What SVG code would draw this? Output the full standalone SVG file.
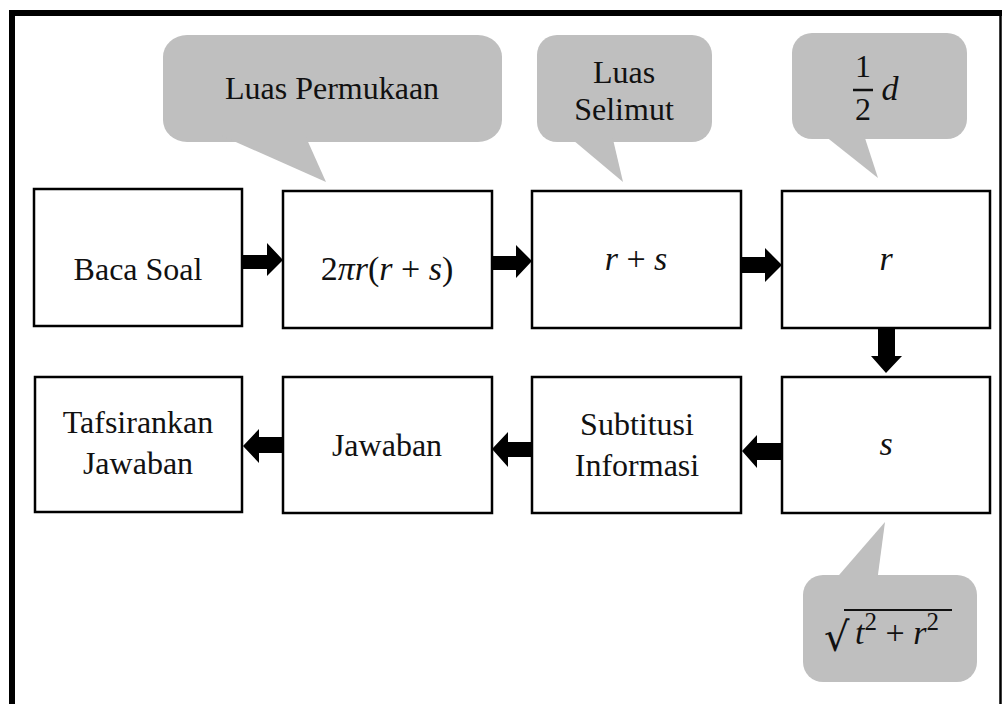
<svg xmlns="http://www.w3.org/2000/svg" width="1006" height="704" viewBox="0 0 1006 704">
<style>
.box{fill:#fff;stroke:#000;stroke-width:2.5}
.call{fill:#bfbfbf;stroke:none}
.t{font-family:"Liberation Serif","Times New Roman",serif;font-size:32px;fill:#111;text-anchor:middle}
.m{font-family:"Liberation Serif","Times New Roman",serif;font-style:italic;font-size:34px;fill:#111;text-anchor:middle}
.u{font-style:normal}
.sup{font-style:normal;font-size:25px}
.arr{fill:#000}
</style>
<rect width="1006" height="704" fill="#fff"/>
<g id="frame" stroke="#000" fill="none">
<line x1="12" y1="10" x2="12" y2="704" stroke-width="6"/>
<line x1="9" y1="13" x2="1002" y2="13" stroke-width="6"/>
<line x1="1000.5" y1="13" x2="1000.5" y2="704" stroke-width="2.5"/>
</g>
<g id="callout-luas-permukaan">
<rect class="call" x="163" y="35" width="339" height="107" rx="24" ry="22"/>
<polygon class="call" points="220,135 305,135 326,182"/>
<text class="t" x="332" y="99">Luas Permukaan</text>
</g>
<g id="callout-luas-selimut">
<rect class="call" x="537" y="35" width="175" height="107" rx="20" ry="20"/>
<polygon class="call" points="567,135 612,135 623,182"/>
<text class="t" x="624" y="83">Luas</text>
<text class="t" x="624" y="120">Selimut</text>
</g>
<g id="callout-half-d">
<rect class="call" x="792" y="33" width="175" height="106" rx="20" ry="20"/>
<polygon class="call" points="820,132 863,132 878,178"/>
<text class="t" x="863" y="77" style="font-size:32px">1</text>
<line x1="853" y1="90" x2="873" y2="90" stroke="#111" stroke-width="2.5"/>
<text class="t" x="863" y="120" style="font-size:32px">2</text>
<text class="m" x="890" y="100">d</text>
</g>
<g id="callout-sqrt">
<rect class="call" x="803" y="575" width="174" height="107" rx="20" ry="20"/>
<polygon class="call" points="833,582 877,582 885,522"/>
<text x="824" y="651" style="font-family:'DejaVu Sans',sans-serif;font-size:40px;fill:#111">√</text>
<line x1="844" y1="610" x2="952" y2="610" stroke="#111" stroke-width="2"/>
<text class="m" x="855" y="644" style="text-anchor:start;font-size:34px">t<tspan class="sup" dy="-14">2</tspan><tspan dy="14"> </tspan><tspan class="u">+</tspan> r<tspan class="sup" dy="-14">2</tspan></text>
</g>
<g id="node-baca-soal">
<rect class="box" x="34" y="189" width="208" height="137"/>
<text class="t" x="138" y="280">Baca Soal</text>
</g>
<g id="node-2pir">
<rect class="box" x="283" y="191" width="209" height="137"/>
<text class="m" x="387" y="280"><tspan class="u">2</tspan>πr<tspan class="u">(</tspan>r <tspan class="u">+</tspan> s<tspan class="u">)</tspan></text>
</g>
<g id="node-r-plus-s">
<rect class="box" x="532" y="191" width="209" height="137"/>
<text class="m" x="636" y="270">r <tspan class="u">+</tspan> s</text>
</g>
<g id="node-r">
<rect class="box" x="782" y="191" width="208" height="137"/>
<text class="m" x="886" y="270">r</text>
</g>
<g id="node-s">
<rect class="box" x="782" y="377" width="208" height="136"/>
<text class="m" x="886" y="455">s</text>
</g>
<g id="node-subtitusi">
<rect class="box" x="532" y="377" width="209" height="136"/>
<text class="t" x="637" y="435">Subtitusi</text>
<text class="t" x="637" y="476">Informasi</text>
</g>
<g id="node-jawaban">
<rect class="box" x="283" y="377" width="209" height="136"/>
<text class="t" x="387" y="456">Jawaban</text>
</g>
<g id="node-tafsirankan">
<rect class="box" x="35" y="377" width="207" height="135"/>
<text class="t" x="138" y="433">Tafsirankan</text>
<text class="t" x="138" y="474">Jawaban</text>
</g>
<g id="connectors" class="arr">
<polygon points="242,255 267,255 267,243 283,260 267,276 267,269 242,269"/>
<polygon points="492,256 516,256 516,245 532,261 516,278 516,270 492,270"/>
<polygon points="741,257 765,257 765,248 782,265 765,282 765,273 741,273"/>
<polygon points="878,328 895,328 895,356 902,356 886,373 871,356 878,356"/>
<polygon points="782,443 757,443 757,435 742,451 757,468 757,460 782,460"/>
<polygon points="532,442 508,442 508,432 492,449 508,467 508,457 532,457"/>
<polygon points="284,437 259,437 259,429 243,446 259,463 259,453 284,453"/>
</g>
</svg>
